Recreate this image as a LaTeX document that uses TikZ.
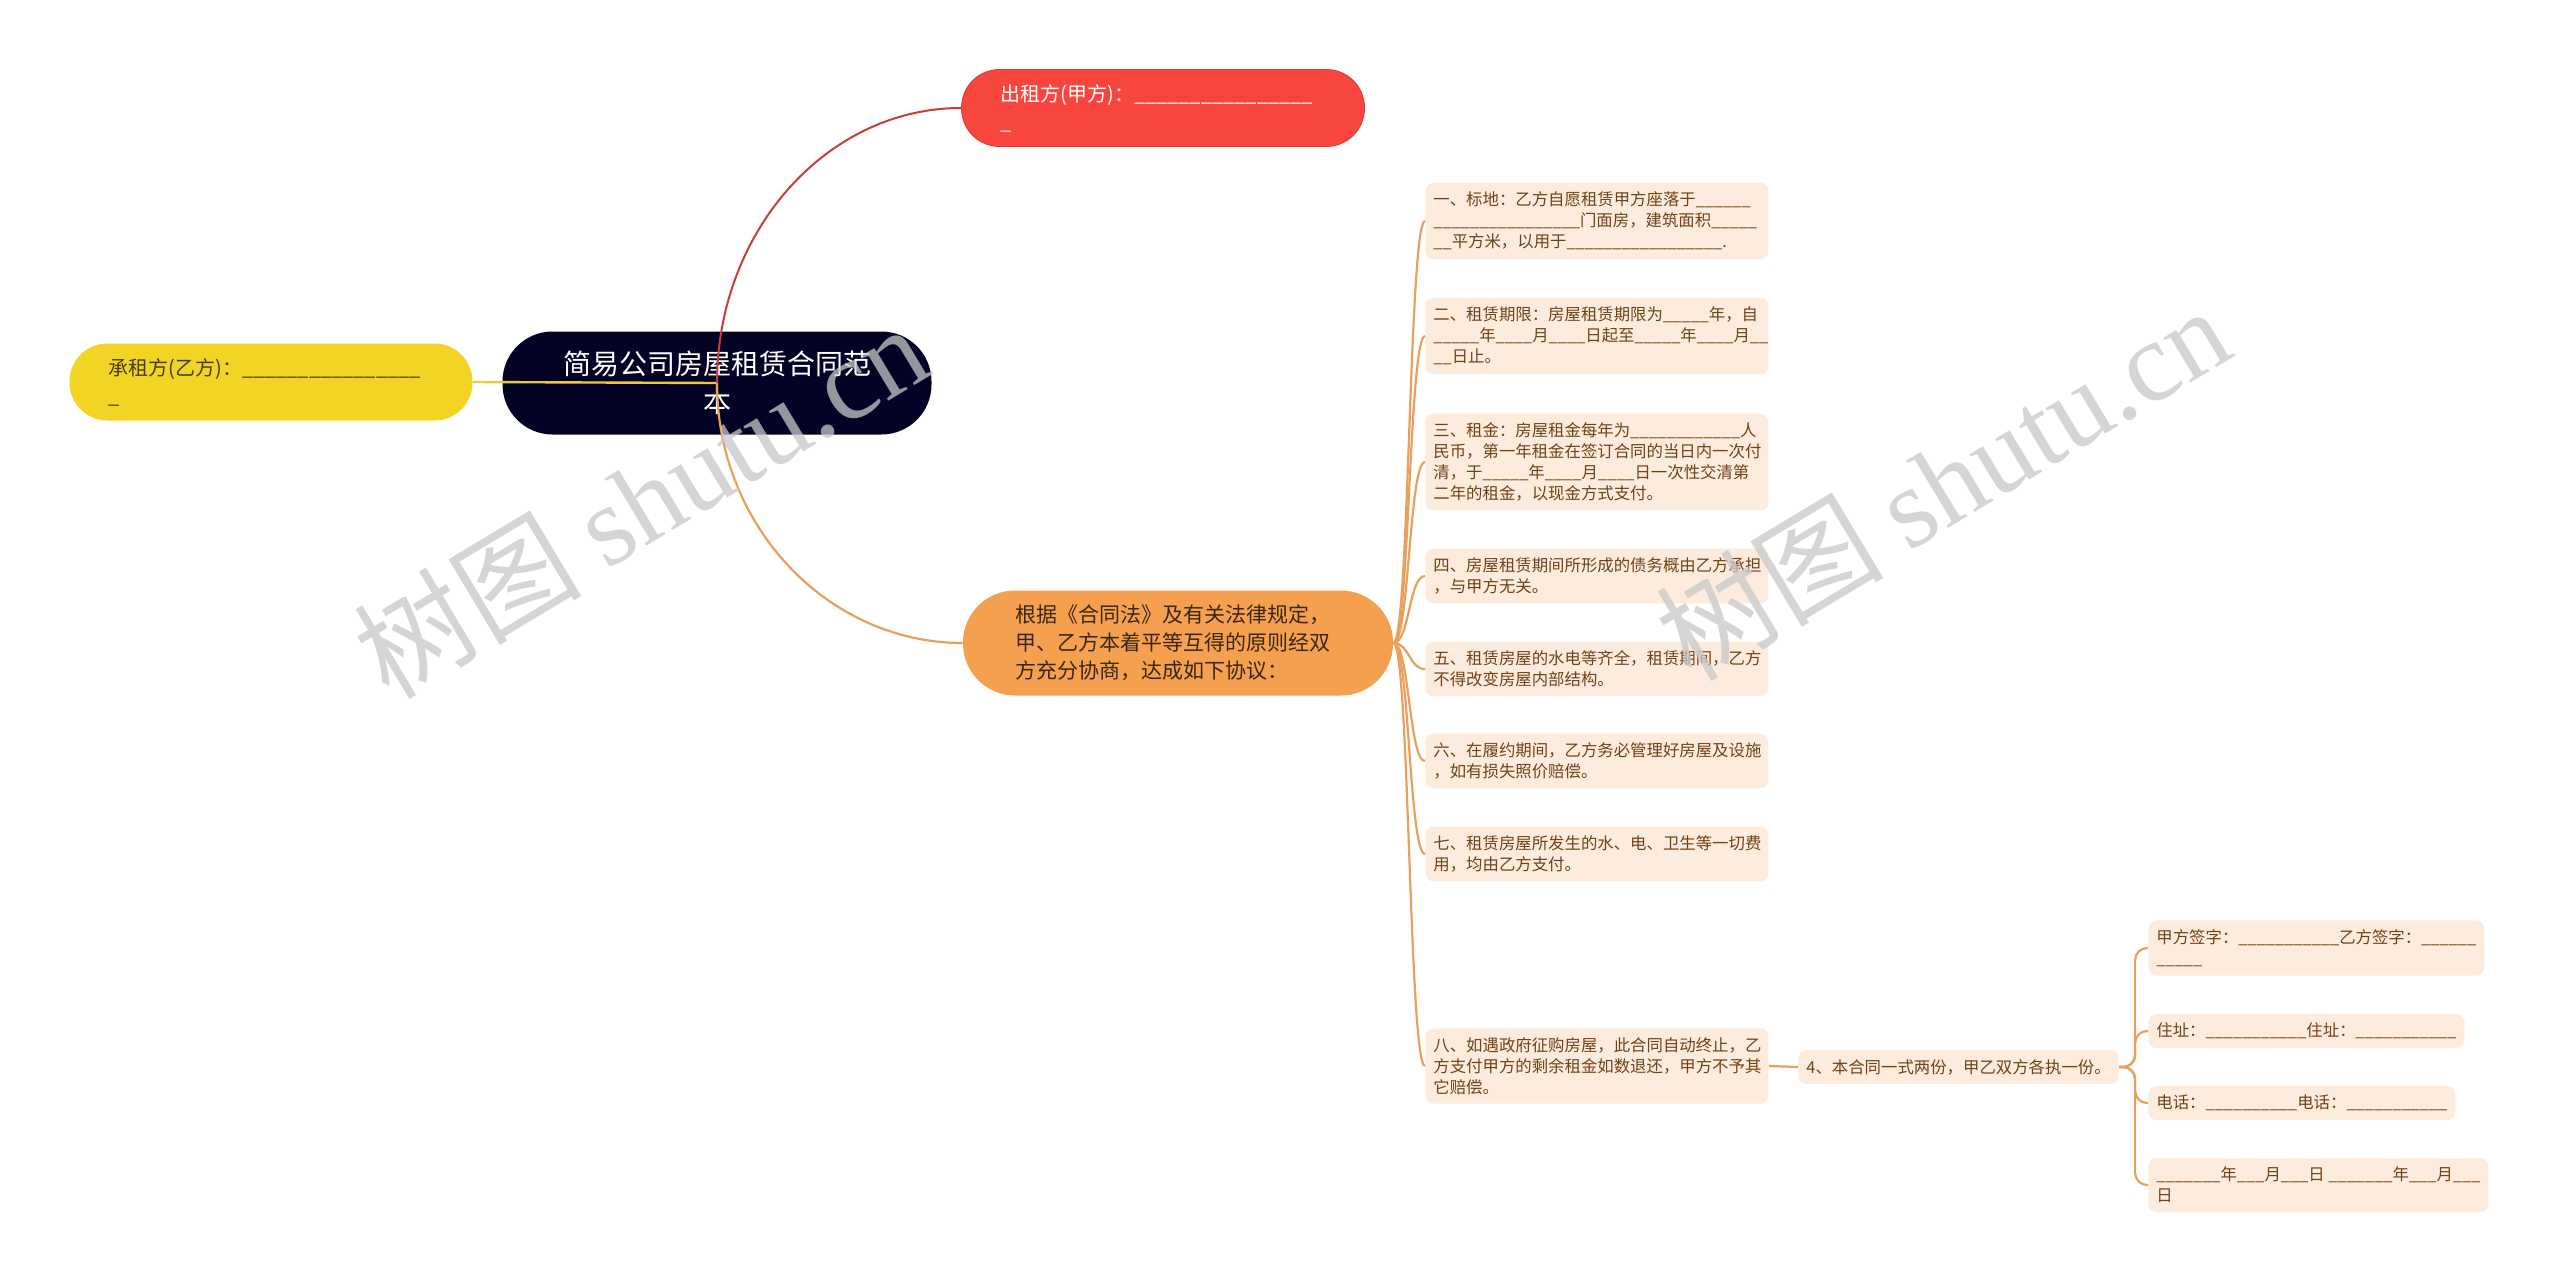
\documentclass[tikz,border=0pt]{standalone}
\usepackage{fontspec}
\setmainfont{Noto Sans CJK SC}
\newfontfamily\wmlatin{Liberation Serif}

\definecolor{rootblue}{RGB}{3,3,38}
\definecolor{partyred}{RGB}{248,69,61}
\definecolor{partyredline}{RGB}{214,58,52}
\definecolor{redline}{RGB}{200,62,56}
\definecolor{partyyellow}{RGB}{242,212,36}
\definecolor{yellowline}{RGB}{232,204,64}
\definecolor{yellowtext}{RGB}{72,60,20}
\definecolor{agreeorange}{RGB}{245,160,78}
\definecolor{agreetext}{RGB}{58,38,18}
\definecolor{branchline}{RGB}{232,160,92}
\definecolor{leafbg}{RGB}{253,236,221}
\definecolor{leaftext}{RGB}{112,66,22}
\definecolor{wmgray}{RGB}{200,200,200}

\newcommand{\blank}[1]{\foreach \k in {1,...,#1}{\_}}

\tikzset{
    rootnode/.style={fill=rootblue, text=white, rounded corners=25pt,
        minimum width=214.5pt, minimum height=51.5pt, align=center,
        font=\fontsize{14}{18.8}\selectfont},
    party/.style={rounded corners=19pt, minimum height=38.5pt,
        inner xsep=19.5pt, text width=162.5pt, align=left,
        font=\fontsize{10}{14}\selectfont},
    agree/.style={fill=agreeorange, text=agreetext, rounded corners=26pt,
        minimum height=52.5pt, inner xsep=26pt, text width=163pt, align=left,
        font=\fontsize{10.5}{13.9}\selectfont},
    leaf/.style={fill=leafbg, text=leaftext, rounded corners=4pt, anchor=west,
        inner xsep=4pt, inner ysep=4.5pt, align=left,
        font=\fontsize{8.2}{10.5}\selectfont},
    clause/.style={leaf, text width=163.5pt},
    branch/.style={draw=branchline, line width=1.1pt},
    watermark/.style={text=wmgray, text opacity=0.75, rotate=31,
        font=\fontsize{57}{57}\selectfont}
}

\begin{document}
\begin{tikzpicture}[x=0.5pt,y=-0.5pt]
    \path[use as bounding box, fill=white] (0,0) rectangle (2560,1285);

    \node[rootnode] (root) at (717,383) {简易公司房屋租赁合同范\\本};
    \node[party, fill=partyred, draw=partyredline, text=white] (lessor) at (1163,108)
        {出租方(甲方)：\blank{16}\\\_};
    \node[party, fill=partyyellow, text=yellowtext] (lessee) at (271,382)
        {承租方(乙方)：\blank{16}\\\_};
    \node[agree] (basis) at (1178,643)
        {根据《合同法》及有关法律规定，\\甲、乙方本着平等互得的原则经双\\方充分协商，达成如下协议：};

    \node[clause] (t1) at (1425,221)
        {一、标地：乙方自愿租赁甲方座落于\blank{6}\\\blank{16}门面房，建筑面积\blank{5}\\\blank{2}平方米，以用于\blank{17}.};
    \node[clause] (t2) at (1425,336)
        {二、租赁期限：房屋租赁期限为\blank{5}年，自\\\blank{5}年\blank{4}月\blank{4}日起至\blank{5}年\blank{4}月\blank{2}\\\blank{2}日止。};
    \node[clause] (t3) at (1425,462)
        {三、租金：房屋租金每年为\blank{12}人\\民币，第一年租金在签订合同的当日内一次付\\清，于\blank{5}年\blank{4}月\blank{4}日一次性交清第\\二年的租金，以现金方式支付。};
    \node[clause] (t4) at (1425,576)
        {四、房屋租赁期间所形成的债务概由乙方承担\\，与甲方无关。};
    \node[clause] (t5) at (1425,669)
        {五、租赁房屋的水电等齐全，租赁期间，乙方\\不得改变房屋内部结构。};
    \node[clause] (t6) at (1425,761)
        {六、在履约期间，乙方务必管理好房屋及设施\\，如有损失照价赔偿。};
    \node[clause] (t7) at (1425,854)
        {七、租赁房屋所发生的水、电、卫生等一切费\\用，均由乙方支付。};
    \node[clause] (t8) at (1425,1066)
        {八、如遇政府征购房屋，此合同自动终止，乙\\方支付甲方的剩余租金如数退还，甲方不予其\\它赔偿。};

    \node[leaf, minimum width=159pt] (copies) at (1798,1067) {4、本合同一式两份，甲乙双方各执一份。};

    \node[leaf] (s1) at (2148,948) {甲方签字：\blank{11}乙方签字：\blank{6}\\\blank{5}};
    \node[leaf] (s2) at (2148,1031) {住址：\blank{11}住址：\blank{11}};
    \node[leaf] (s3) at (2148,1103) {电话：\blank{10}电话：\blank{11}};
    \node[leaf] (s4) at (2148,1185) {\blank{7}年\blank{3}月\blank{3}日 \blank{7}年\blank{3}月\blank{3}\\日};

    \draw[yellowline, line width=1.2pt] (root.center) -- (lessee.east);
    \draw[redline, line width=1pt] (root.center) .. controls +(0,-151) and +(-135,0) .. (lessor.west);
    \draw[branchline, line width=1.1pt] (root.center) .. controls +(0,143) and +(-135,0) .. (basis.west);

    \foreach \i in {1,...,8}
        \draw[branch] (basis.east) .. controls +(16,0) and +(-16,0) .. (t\i.west);
    \draw[branch] (t8.east) -- (copies.west);
    \foreach \s in {s1,s2,s3,s4}
        \draw[branch, rounded corners=6pt] (copies.east) -- ++(16,0) |- (\s.west);

    \node[watermark] (wm1) at (640,500) {树图 {\wmlatin shutu.cn}};
    \node[watermark] (wm2) at (1942,482) {树图 {\wmlatin shutu.cn}};
\end{tikzpicture}
\end{document}
